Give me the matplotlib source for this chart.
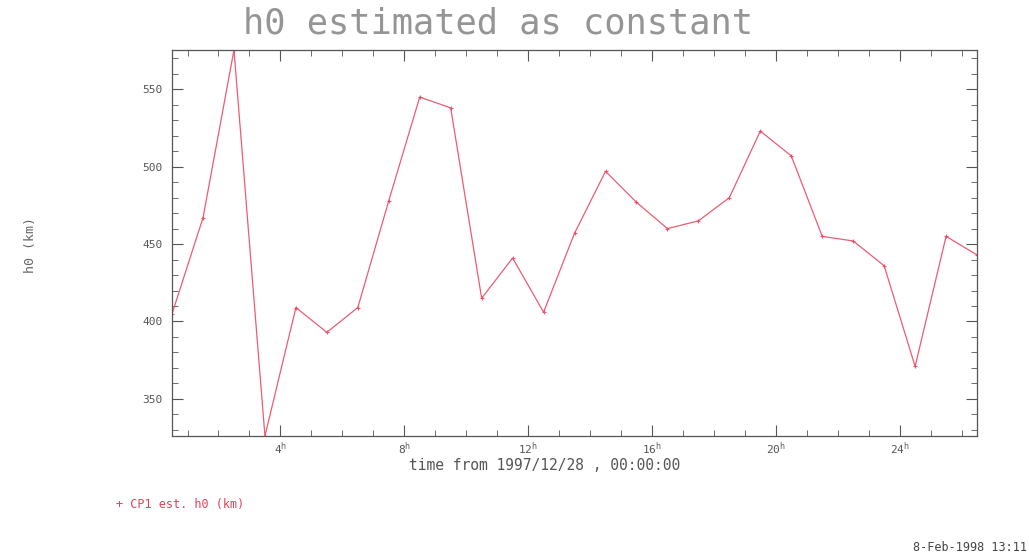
import numpy as np
import matplotlib.pyplot as plt
from matplotlib.ticker import MultipleLocator, FixedLocator

# heures depuis 1997/12/28 00:00 (un point par heure)
hours = [0.5 + i for i in range(27)]
h0_km = [405, 467, 575.4, 326, 409, 393, 409, 478, 545, 538,
         415, 441, 406, 457, 497, 477, 460, 465, 480, 523,
         507, 455, 452, 436, 371, 455, 443]

xticks = [4, 8, 12, 16, 20, 24]
yticks = [350, 400, 450, 500, 550]

red = '#e8405c'
grey = '#959595'
mono = 'DejaVu Sans Mono'

fig = plt.figure(figsize=(10.29, 5.56), dpi=100)
ax = fig.add_axes([0.1672, 0.2158, 0.7823, 0.6943])

ax.plot(hours, h0_km, color=red, lw=0.9, marker='+', ms=3, mew=0.8, alpha=0.85)

ax.set_xlim(hours[0], hours[-1])
ax.set_ylim(min(h0_km), max(h0_km))

ax.xaxis.set_major_locator(FixedLocator(xticks))
ax.set_xticklabels([r'%d$^{\rm h}$' % t for t in xticks])
ax.xaxis.set_minor_locator(MultipleLocator(1))
ax.yaxis.set_major_locator(FixedLocator(yticks))
ax.set_yticklabels([str(v) for v in yticks])
ax.yaxis.set_minor_locator(MultipleLocator(10))

ax.tick_params(which='both', direction='in', top=True, right=True,
               colors='#555555', labelcolor='#555555', labelsize=8)
ax.tick_params(which='major', length=8, width=0.8)
ax.tick_params(which='minor', length=4, width=0.6)
ax.tick_params(axis='y', pad=7)
ax.tick_params(axis='x', pad=3)
for lab in ax.get_xticklabels() + ax.get_yticklabels():
    lab.set_family(mono)
for s in ax.spines.values():
    s.set_color('#555555')
    s.set_linewidth(0.9)

fig.text(0.484, 0.958, 'h0 estimated as constant', ha='center', va='center',
         fontsize=25.5, color=grey, family=mono, fontweight='light')
fig.text(0.529, 0.163, 'time from 1997/12/28 , 00:00:00', ha='center',
         va='center', fontsize=10.5, color='#555555', family=mono)
fig.text(0.03, 0.56, 'h0 (km)', rotation=90, ha='center', va='center',
         fontsize=9.5, color='#666666', family=mono)

fig.text(0.113, 0.092, '+ CP1 est. h0 (km)', ha='left', va='center',
         fontsize=8.5, color=red, family=mono)
fig.text(0.887, 0.016, '8-Feb-1998 13:11', ha='left', va='center',
         fontsize=8.5, color='#444444', family=mono)

fig.savefig('out.png', dpi=100)
